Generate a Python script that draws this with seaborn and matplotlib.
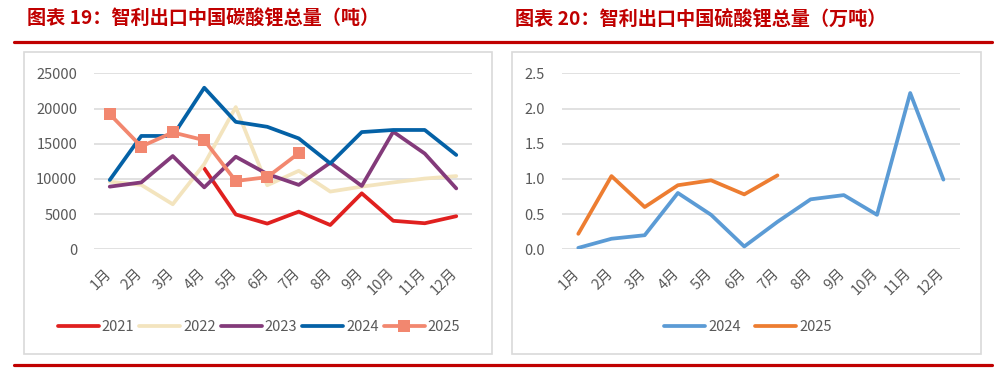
import numpy as np
import pandas as pd
import matplotlib
matplotlib.use("Agg")
import matplotlib.pyplot as plt
import matplotlib.transforms as mtransforms
from matplotlib.patches import Rectangle
from matplotlib.lines import Line2D
import seaborn as sns

# 数据
months = ["1月", "2月", "3月", "4月", "5月", "6月", "7月", "8月", "9月", "10月", "11月", "12月"]

# 图表19：碳酸锂（吨）
li2co3_2021 = [np.nan, np.nan, np.nan, 11500, 4950, 3650, 5350, 3450, 7950, 4050, 3700, 4700]
li2co3_2022 = [9600, 9150, 6400, 12100, 20200, 9100, 11150, 8200, 8900, 9500, 10050, 10400]
li2co3_2023 = [8900, 9500, 13250, 8800, 13150, 10700, 9150, 12300, 9000, 16700, 13600, 8650]
li2co3_2024 = [9850, 16100, 16100, 22950, 18100, 17400, 15750, 12200, 16650, 16950, 16950, 13400]
li2co3_2025 = [19200, 14600, 16600, 15500, 9700, 10250, 13650]

# 图表20：硫酸锂（万吨）
li2so4_2024 = [0.02, 0.15, 0.20, 0.80, 0.49, 0.04, 0.39, 0.71, 0.77, 0.49, 2.22, 0.99]
li2so4_2025 = [0.22, 1.04, 0.60, 0.91, 0.98, 0.78, 1.05]

sns.set_theme(style="white")
plt.rcParams["font.family"] = ["Noto Sans CJK SC", "DejaVu Sans"]

W, H = 995, 373
fig = plt.figure(figsize=(W / 100, H / 100), dpi=100)

grey = "#595959"
grid_c = "#D9D9D9"
dark_red = "#C00000"


def px_rect(x0, y0, x1, y1):
    return [x0 / W, 1 - y1 / H, (x1 - x0) / W, (y1 - y0) / H]


# 外框和红线
for x0, x1 in [(24, 492), (512, 981)]:
    fig.patches.append(Rectangle((x0 / W, 1 - 354 / H), (x1 - x0) / W, 302 / H,
                                 transform=fig.transFigure, fill=False,
                                 edgecolor=grid_c, lw=1.2))
for y in [42, 365]:
    fig.lines.append(Line2D([14 / W, 992 / W], [1 - y / H, 1 - y / H],
                            transform=fig.transFigure, color=dark_red, lw=2.3))

fig.text(27 / W, 1 - 19 / H, "图表 19：智利出口中国碳酸锂总量（吨）",
         color=dark_red, fontsize=13.8, fontweight="bold", va="center", ha="left")
fig.text(515 / W, 1 - 19 / H, "图表 20：智利出口中国硫酸锂总量（万吨）",
         color=dark_red, fontsize=13.8, fontweight="bold", va="center", ha="left")


def style_axes(ax, ymax, step, fmt):
    ax.set_xlim(-0.5, 11.5)
    ax.set_ylim(0, ymax)
    ticks = np.arange(0, ymax + step / 2, step)
    ax.set_yticks(ticks)
    ax.set_yticklabels([fmt.format(t) for t in ticks])
    ax.set_xticks(range(12))
    ax.set_xticklabels(months, rotation=45, ha="right", va="top")
    ax.tick_params(axis="y", length=0, pad=12, labelsize=10.5, colors=grey)
    ax.tick_params(axis="x", length=0, pad=12, labelsize=10.5, colors=grey)
    shift = mtransforms.ScaledTranslation(4 / 100, 0, fig.dpi_scale_trans)
    for lbl in ax.get_xticklabels():
        lbl.set_transform(lbl.get_transform() + shift)
    ax.grid(axis="y", color=grid_c, lw=1.1)
    ax.grid(axis="x", visible=False)
    for s in ax.spines.values():
        s.set_visible(False)
    ax.set_xlabel("")
    ax.set_ylabel("")
    ax.set_facecolor("none")


# 左图
ax1 = fig.add_axes(px_rect(94, 73.3, 472, 249.3))
left_series = [
    ("2021", li2co3_2021, "#E0201F", None),
    ("2022", li2co3_2022, "#F3E4BE", None),
    ("2023", li2co3_2023, "#833A7A", None),
    ("2024", li2co3_2024, "#0461A6", None),
    ("2025", li2co3_2025, "#F2876F", "s"),
]
for name, vals, col, mk in left_series:
    df = pd.DataFrame({"m": np.arange(len(vals)), "v": vals}).dropna()
    sns.lineplot(data=df, x="m", y="v", ax=ax1, color=col, lw=2.7, label=name,
                 marker=mk, markersize=8 if mk else 0, markeredgewidth=0)
style_axes(ax1, 25000, 5000, "{:.0f}")
ax1.legend(loc="center", bbox_to_anchor=(259 / W, 1 - 327 / H),
           bbox_transform=fig.transFigure, ncol=5, frameon=False,
           fontsize=10.5, labelcolor=grey, handlelength=2.8, handletextpad=0.2,
           columnspacing=0.35)

# 右图
ax2 = fig.add_axes(px_rect(561.7, 73.3, 960, 249.3))
right_series = [
    ("2024", li2so4_2024, "#5B9BD5"),
    ("2025", li2so4_2025, "#ED7D31"),
]
for name, vals, col in right_series:
    df = pd.DataFrame({"m": np.arange(len(vals)), "v": vals})
    sns.lineplot(data=df, x="m", y="v", ax=ax2, color=col, lw=2.7, label=name)
style_axes(ax2, 2.5, 0.5, "{:.1f}")
ax2.legend(loc="center", bbox_to_anchor=(748 / W, 1 - 327 / H),
           bbox_transform=fig.transFigure, ncol=2, frameon=False,
           fontsize=10.5, labelcolor=grey, handlelength=2.8, handletextpad=0.2,
           columnspacing=1.0)

fig.savefig("out.png", dpi=100)
